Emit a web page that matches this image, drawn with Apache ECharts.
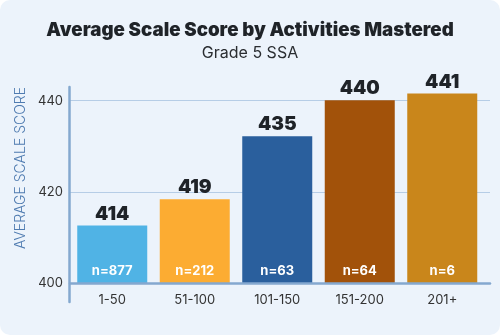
<!DOCTYPE html>
<html><head><meta charset="utf-8">
<script src="https://cdn.jsdelivr.net/npm/echarts@6/dist/echarts.min.js"></script>
<style>
html,body{margin:0;padding:0;background:#ffffff;}
#wrap{position:absolute;left:0;top:0;width:500px;height:335px;background:#ecf3fb;border-radius:10px;overflow:hidden;}
#chart{width:500px;height:335px;}
</style></head>
<body><div id="wrap"><div id="chart"></div></div>
<script>
const categories = ['1-50', '51-100', '101-150', '151-200', '201+'];
const barValues = [412.6, 418.4, 432.2, 440.1, 441.6];
const scoreLabels = ['414', '419', '435', '440', '441'];
const countLabels = ['n=877', 'n=212', 'n=63', 'n=64', 'n=6'];
const barColors = ['#50b3e5', '#fcac32', '#2a5f9d', '#a2520a', '#c9861b'];
const yMin = 400, yMax = 440, yStep = 20;

const chart = echarts.init(document.getElementById('chart'), null, {renderer: 'canvas'});
const FONT = 'Inter, "Noto Sans", sans-serif';
chart.setOption({
  backgroundColor: 'transparent',
  animation: false,
  title: [
    {text: 'Average Scale Score by Activities Mastered', left: 'center', top: 16,
     textStyle: {fontFamily: FONT, fontSize: 18.7, fontWeight: 900, color: '#1f2328'}},
    {text: 'Grade 5 SSA', left: 'center', top: 40,
     textStyle: {fontFamily: FONT, fontSize: 16, fontWeight: 400, color: '#2a2d31'}}
  ],
  graphic: [{
    type: 'text', x: 21, y: 168, rotation: Math.PI / 2,
    style: {text: 'AVERAGE SCALE SCORE', fill: '#4f7bb0', font: '300 14px ' + FONT,
            align: 'center', verticalAlign: 'middle'}
  }],
  grid: [
    {left: 70, right: 10, top: 100.7, bottom: 52},
    {left: 71, width: 412.5, top: 77.9, bottom: 52},
    {left: 69.5, width: 10, top: 87, bottom: 33}
  ],
  xAxis: [
    {gridIndex: 0, type: 'category', data: categories, axisLabel: {show: false}, axisTick: {show: false},
     axisLine: {show: true, lineStyle: {color: '#84a8cf', width: 2.5}}, z: 5},
    {gridIndex: 1, type: 'category', data: categories, axisTick: {show: false}, axisLine: {show: false},
     axisLabel: {fontFamily: FONT, fontSize: 13, color: '#333', margin: 11}},
    {gridIndex: 2, type: 'category', data: [], show: false}
  ],
  yAxis: [
    {gridIndex: 0, type: 'value', min: yMin, max: yMax, interval: yStep,
     axisLine: {show: false}, axisTick: {show: false},
     axisLabel: {fontFamily: FONT, fontSize: 13, color: '#333', margin: 7},
     splitLine: {lineStyle: {color: '#b6cde6', width: 1.2}}},
    {gridIndex: 1, type: 'value', min: 400, max: 445, startValue: 400, show: false, splitLine: {show: false}},
    {gridIndex: 2, type: 'value', min: 0, max: 1, axisLabel: {show: false}, axisTick: {show: false},
     splitLine: {show: false}, axisLine: {show: true, lineStyle: {color: '#84a8cf', width: 2.5}}}
  ],
  series: [
    {type: 'bar', xAxisIndex: 1, yAxisIndex: 1, barWidth: 70,
     data: barValues.map((v, i) => ({value: v, itemStyle: {color: barColors[i]}})),
     label: {show: true, position: 'top', distance: 2, fontFamily: FONT, fontSize: 19, fontWeight: 900,
             color: '#1f2328', formatter: p => scoreLabels[p.dataIndex]}},
    {type: 'bar', xAxisIndex: 1, yAxisIndex: 1, barWidth: 70, barGap: '-100%',
     data: barValues, itemStyle: {color: 'rgba(0,0,0,0)'},
     label: {show: true, position: 'insideBottom', distance: 5, fontFamily: FONT, fontSize: 13, fontWeight: 700,
             color: '#ffffff', formatter: p => countLabels[p.dataIndex]}}
  ]
});
</script></body></html>
